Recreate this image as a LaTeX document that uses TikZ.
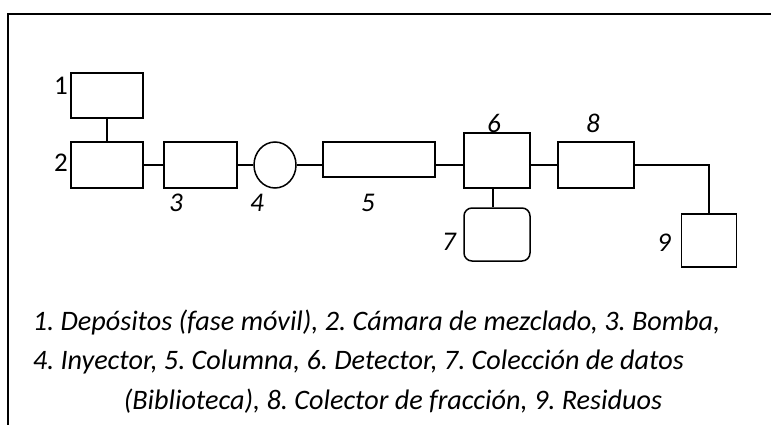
\documentclass[tikz,border=0pt]{standalone}
\usepackage{fontspec}
\usetikzlibrary{shapes.geometric}
\setmainfont{Carlito}
\frenchspacing
\begin{document}
\begin{tikzpicture}[x=1pt,y=-1pt,
  line width=1.5pt,
  unit/.style={draw, rectangle, inner sep=0pt},
  tag/.style={font=\fontsize{27}{32}\selectfont\itshape, inner sep=0pt},
  uptag/.style={font=\fontsize{27}{32}\selectfont, inner sep=0pt},
  caption/.style={font=\fontsize{28.2}{32}\selectfont\itshape, inner sep=0pt, anchor=base west}]
\useasboundingbox (0,0) rectangle (771,425);
% frame
\draw[line width=2pt] (7.5,425) -- (7.5,14) -- (771,14);
% units
\node[unit, minimum width=72pt, minimum height=45pt] (b1) at (107,95.5) {};
\node[unit, minimum width=72pt, minimum height=46pt] (b2) at (107,165) {};
\node[unit, minimum width=73pt, minimum height=46pt] (b3) at (200.5,165) {};
\node[draw, ellipse, inner sep=0pt, minimum width=42pt, minimum height=46pt] (b4) at (275,165) {};
\node[unit, minimum width=112pt, minimum height=35pt] (b5) at (379,159.5) {};
\node[unit, minimum width=66pt, minimum height=55pt] (b6) at (497,160.5) {};
\node[unit, rounded corners=8pt, minimum width=66pt, minimum height=53pt] (b7) at (497,234.5) {};
\node[unit, minimum width=76pt, minimum height=46pt] (b8) at (596,165) {};
\node[unit, minimum width=55pt, minimum height=53pt] (b9) at (709,240.5) {};
% connections
\draw (b1) -- (b2);
\draw (b2) -- (b3);
\draw (b3) -- (b4);
\coordinate (j45) at (b4.east);
\draw (j45) -- (j45 -| b5.west);
\draw (b5.east |- j45) -- (b6.west |- j45);
\coordinate (j67) at (493,188);
\draw (j67) -- (j67 |- b7.north);
\draw (b6.east |- b8.west) -- (b8.west);
\draw (b8.east) -| (b9.north);
% labels
\node[uptag] (l1) at (61,86) {1};
\node[uptag] (l2) at (61,163) {2};
\node[tag] (l3) at (176,203) {3};
\node[tag] (l4) at (257,203) {4};
\node[tag] (l5) at (368,203) {5};
\node[tag] (l6) at (494,123) {6};
\node[tag] (l7) at (449,242) {7};
\node[tag] (l8) at (593,123) {8};
\node[tag] (l9) at (664,243) {9};
% legend
\node[caption] (c1) at (32,330) {1. Depósitos (fase móvil), 2. Cámara de mezclado, 3. Bomba,};
\node[caption] (c2) at (32,369.5) {4. Inyector, 5. Columna, 6. Detector, 7. Colección de datos};
\node[caption] (c3) at (123,409) {(Biblioteca), 8. Colector de fracción, 9. Residuos};
\end{tikzpicture}
\end{document}
